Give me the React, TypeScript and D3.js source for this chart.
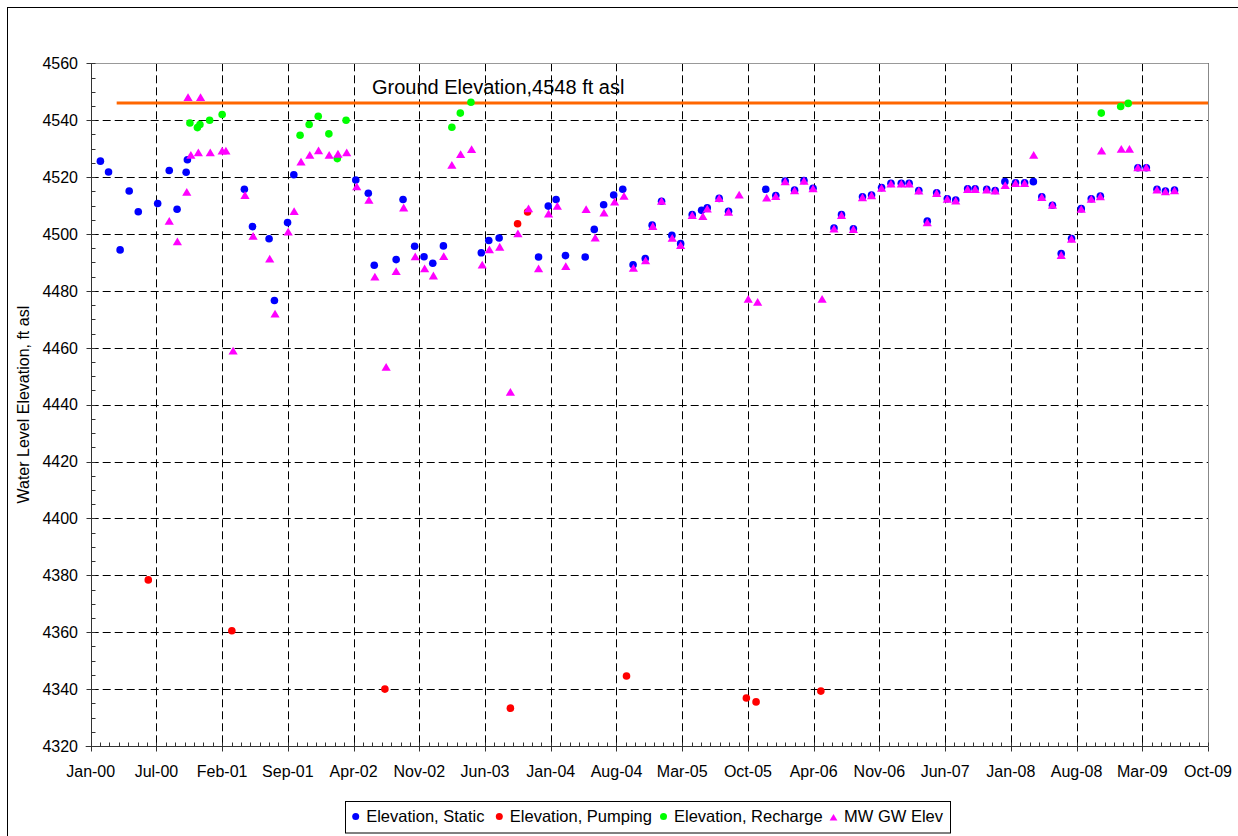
import React from "react";
import * as d3 from "d3";

// axis setup (Excel date axis: 210-day major unit, 30-day minor unit)
const xTickLabels = [
  "Jan-00", "Jul-00", "Feb-01", "Sep-01", "Apr-02", "Nov-02", "Jun-03", "Jan-04", "Aug-04",
  "Mar-05", "Oct-05", "Apr-06", "Nov-06", "Jun-07", "Jan-08", "Aug-08", "Mar-09", "Oct-09",
];
const axisStart = "2000-01-02";
const majorDays = 210;
const minorDays = 30;
const yTicks = [4320, 4340, 4360, 4380, 4400, 4420, 4440, 4460, 4480, 4500, 4520, 4540, 4560];

const groundElev = 4546;
const groundFrom = "2000-03-25";
const groundLabel = "Ground Elevation,4548 ft asl";

const staticPts: [string, number][] = [
  ["2000-02-02", 4525.6], ["2000-02-28", 4521.8], ["2000-04-05", 4494.4], ["2000-05-04", 4515.1],
  ["2000-06-02", 4507.8], ["2000-08-03", 4510.7], ["2000-09-09", 4522.3], ["2000-10-04", 4508.7],
  ["2000-11-02", 4521.7], ["2000-11-06", 4526.1], ["2001-05-07", 4515.7], ["2001-06-02", 4502.6],
  ["2001-07-25", 4498.3], ["2001-08-11", 4476.6], ["2001-09-22", 4504.0], ["2001-10-12", 4520.8],
  ["2002-04-28", 4519.0], ["2002-06-07", 4514.3], ["2002-06-26", 4489.0], ["2002-09-04", 4491.0],
  ["2002-09-26", 4512.1], ["2002-11-02", 4495.7], ["2002-12-02", 4492.0], ["2002-12-30", 4489.7],
  ["2003-02-02", 4495.8], ["2003-06-03", 4493.4], ["2003-06-27", 4497.7], ["2003-07-30", 4498.6],
  ["2003-12-03", 4491.9], ["2004-01-03", 4509.8], ["2004-01-28", 4512.1], ["2004-02-27", 4492.4],
  ["2004-04-30", 4491.9], ["2004-05-29", 4501.6], ["2004-06-28", 4510.3], ["2004-07-30", 4513.7],
  ["2004-08-28", 4515.7], ["2004-09-30", 4489.2], ["2004-11-08", 4491.4], ["2004-11-30", 4503.1],
  ["2004-12-30", 4511.5], ["2005-02-01", 4499.5], ["2005-03-01", 4496.6], ["2005-04-07", 4506.8],
  ["2005-05-07", 4508.3], ["2005-05-25", 4509.2], ["2005-07-02", 4512.5], ["2005-08-01", 4508.0],
  ["2005-11-28", 4515.7], ["2005-12-30", 4513.5], ["2006-01-29", 4518.6], ["2006-02-28", 4515.4],
  ["2006-03-30", 4518.8], ["2006-04-28", 4516.1], ["2006-07-04", 4502.1], ["2006-07-28", 4506.8],
  ["2006-09-04", 4501.8], ["2006-10-03", 4513.1], ["2006-11-01", 4513.7], ["2006-12-03", 4516.3],
  ["2007-01-02", 4517.8], ["2007-02-04", 4517.8], ["2007-03-01", 4517.8], ["2007-04-01", 4515.3],
  ["2007-04-28", 4504.5], ["2007-05-28", 4514.5], ["2007-07-01", 4512.4], ["2007-07-28", 4511.9],
  ["2007-09-04", 4515.9], ["2007-09-28", 4515.9], ["2007-11-04", 4515.7], ["2007-12-01", 4515.3],
  ["2008-01-01", 4518.4], ["2008-02-04", 4518.0], ["2008-03-04", 4518.0], ["2008-04-01", 4518.4],
  ["2008-04-28", 4513.1], ["2008-06-01", 4510.1], ["2008-06-29", 4493.1], ["2008-08-01", 4498.4],
  ["2008-09-01", 4508.9], ["2008-10-03", 4512.4], ["2008-11-01", 4513.3], ["2009-03-01", 4523.3],
  ["2009-03-28", 4523.3], ["2009-05-01", 4515.7], ["2009-05-28", 4515.1], ["2009-06-26", 4515.4],
];

const pumpingPts: [string, number][] = [
  ["2000-07-04", 4378.4], ["2001-03-28", 4360.5], ["2002-07-30", 4340.0], ["2003-09-04", 4333.3],
  ["2003-09-27", 4503.6], ["2003-10-29", 4507.7], ["2004-09-09", 4344.6], ["2005-09-27", 4336.9],
  ["2005-10-28", 4335.5], ["2006-05-23", 4339.3],
];

const rechargePts: [string, number][] = [
  ["2000-11-14", 4539.0], ["2000-12-08", 4537.4], ["2000-12-16", 4538.5], ["2001-01-16", 4540.0],
  ["2001-02-25", 4542.0], ["2001-11-01", 4534.7], ["2001-11-30", 4538.5], ["2001-12-29", 4541.4],
  ["2002-02-01", 4535.2], ["2002-02-28", 4526.5], ["2002-03-28", 4540.0], ["2003-03-01", 4537.5],
  ["2003-03-28", 4542.5], ["2003-05-01", 4546.3], ["2008-11-04", 4542.5], ["2009-01-05", 4544.8],
  ["2009-01-29", 4545.9],
];

const mwPts: [string, number][] = [
  ["2000-09-09", 4504.5], ["2000-10-05", 4497.3], ["2000-11-04", 4514.7], ["2000-11-08", 4548.0],
  ["2000-11-17", 4527.7], ["2000-12-11", 4528.6], ["2000-12-18", 4548.0], ["2001-01-18", 4528.6],
  ["2001-02-25", 4529.2], ["2001-03-09", 4529.2], ["2001-04-01", 4458.9], ["2001-05-09", 4513.6],
  ["2001-06-04", 4499.2], ["2001-07-27", 4491.2], ["2001-08-13", 4471.9], ["2001-09-24", 4500.7],
  ["2001-10-13", 4507.9], ["2001-11-04", 4525.3], ["2001-12-02", 4527.7], ["2001-12-30", 4529.3],
  ["2002-02-02", 4527.7], ["2002-03-02", 4528.1], ["2002-03-30", 4528.6], ["2002-05-01", 4516.6],
  ["2002-06-09", 4511.9], ["2002-06-28", 4484.9], ["2002-08-03", 4453.2], ["2002-09-04", 4486.8],
  ["2002-09-28", 4509.2], ["2002-11-04", 4492.0], ["2002-12-04", 4487.8], ["2003-01-01", 4485.3],
  ["2003-02-03", 4492.1], ["2003-03-01", 4524.2], ["2003-03-29", 4528.0], ["2003-05-03", 4529.7],
  ["2003-06-06", 4489.1], ["2003-06-29", 4494.5], ["2003-08-01", 4495.4], ["2003-09-04", 4444.4],
  ["2003-09-28", 4500.1], ["2003-11-01", 4508.9], ["2003-12-03", 4487.8], ["2004-01-04", 4507.1],
  ["2004-02-01", 4509.8], ["2004-02-28", 4488.6], ["2004-05-03", 4508.6], ["2004-06-01", 4498.6],
  ["2004-06-29", 4507.4], ["2004-08-02", 4511.3], ["2004-09-01", 4513.3], ["2004-10-01", 4488.0],
  ["2004-11-09", 4490.6], ["2004-12-02", 4502.7], ["2004-12-30", 4511.5], ["2005-02-02", 4498.5],
  ["2005-03-01", 4496.0], ["2005-04-07", 4506.5], ["2005-05-11", 4506.2], ["2005-05-25", 4508.8],
  ["2005-07-02", 4512.5], ["2005-08-01", 4507.7], ["2005-09-04", 4513.7], ["2005-10-03", 4477.1],
  ["2005-11-02", 4476.0], ["2005-12-01", 4512.7], ["2005-12-30", 4513.2], ["2006-01-29", 4518.4],
  ["2006-02-28", 4515.2], ["2006-03-30", 4518.6], ["2006-04-28", 4515.9], ["2006-05-27", 4477.1],
  ["2006-07-04", 4501.8], ["2006-07-28", 4506.5], ["2006-09-04", 4501.6], ["2006-10-03", 4512.8],
  ["2006-11-01", 4513.5], ["2006-12-03", 4516.1], ["2007-01-02", 4517.6], ["2007-02-04", 4517.6],
  ["2007-03-01", 4517.6], ["2007-04-01", 4515.1], ["2007-04-28", 4504.0], ["2007-05-28", 4514.3],
  ["2007-07-01", 4512.2], ["2007-07-28", 4511.6], ["2007-09-04", 4515.7], ["2007-09-28", 4515.7],
  ["2007-11-04", 4515.5], ["2007-12-01", 4515.1], ["2008-01-02", 4517.1], ["2008-02-04", 4517.8],
  ["2008-03-04", 4517.8], ["2008-04-02", 4527.7], ["2008-04-28", 4512.9], ["2008-06-01", 4510.1],
  ["2008-06-29", 4492.5], ["2008-08-01", 4498.2], ["2008-09-01", 4508.7], ["2008-10-03", 4512.2],
  ["2008-11-01", 4513.1], ["2008-11-05", 4529.2], ["2009-01-07", 4529.8], ["2009-02-02", 4529.8],
  ["2009-03-01", 4523.3], ["2009-03-28", 4523.3], ["2009-05-01", 4515.5], ["2009-05-28", 4514.9],
  ["2009-06-26", 4515.2],
];

const legendItems = [
  { label: "Elevation, Static", color: "#0000FF", shape: "circle" },
  { label: "Elevation, Pumping", color: "#FF0000", shape: "circle" },
  { label: "Elevation, Recharge", color: "#00FF00", shape: "circle" },
  { label: "MW GW Elev", color: "#FF00FF", shape: "triangle" },
];

const FONT = "'Liberation Sans', Arial, sans-serif";
const W = 1238;
const H = 836;
const left = 90.7, right = 1208, top = 63.3, bottom = 746;

const parse = d3.timeParse("%Y-%m-%d");
const crisp = (v: number) => Math.round(v) + 0.5;
const triPath = (cx: number, cy: number, s = 1) =>
  `M${cx},${cy - 4.2 * s}L${cx + 4.6 * s},${cy + 3.6 * s}L${cx - 4.6 * s},${cy + 3.6 * s}Z`;

export default function App() {
  const start = parse(axisStart) as Date;
  const end = d3.timeDay.offset(start, majorDays * (xTickLabels.length - 1));
  const x = d3.scaleTime().domain([start, end]).range([left, right]);
  const y = d3.scaleLinear().domain([yTicks[0], yTicks[yTicks.length - 1]]).range([bottom, top]);

  const majorX = xTickLabels.map((_, i) => x(d3.timeDay.offset(start, i * majorDays)));
  const minorX = d3.range(0, majorDays * (xTickLabels.length - 1) + 1, minorDays)
    .map((d) => x(d3.timeDay.offset(start, d)));
  const minorY = d3.range(yTicks[0], yTicks[yTicks.length - 1] + 1, 5).map((v) => y(v));

  const pts = (arr: [string, number][]) => arr.map(([d, v]) => [x(parse(d) as Date), y(v)]);

  const legendX = [355.7, 499.3, 663.5, 833.5];

  return (
    <svg width={W} height={H} style={{ position: "absolute", left: 0, top: 0, display: "block", background: "#fff" }}
      fontFamily={FONT}>
      <rect x={7.5} y={7.5} width={W + 20} height={H + 20} fill="#fff" stroke="#000" strokeWidth={1} />

      {/* grid */}
      {yTicks.slice(1, -1).map((v) => (
        <line key={"gy" + v} x1={left} x2={right} y1={crisp(y(v))} y2={crisp(y(v))}
          stroke="#000" strokeWidth={1} strokeDasharray="8,4" />
      ))}
      {majorX.slice(1).map((px, i) => (
        <line key={"gx" + i} x1={crisp(px)} x2={crisp(px)} y1={top} y2={bottom}
          stroke="#000" strokeWidth={1} strokeDasharray="8,4" />
      ))}
      <line x1={left} x2={right} y1={crisp(top)} y2={crisp(top)} stroke="#999" />
      <line x1={crisp(right)} x2={crisp(right)} y1={top} y2={bottom} stroke="#888" />

      {/* ground elevation */}
      <line x1={x(parse(groundFrom) as Date)} x2={right} y1={y(groundElev)} y2={y(groundElev)}
        stroke="#FF6600" strokeWidth={3} />
      <text x={372} y={94} fontSize={20} fill="#000">{groundLabel}</text>

      {/* axes */}
      <line x1={crisp(left)} x2={crisp(left)} y1={top} y2={bottom + 0.5} stroke="#333" />
      <line x1={left - 5} x2={right} y1={crisp(bottom)} y2={crisp(bottom)} stroke="#333" />
      {minorY.map((py, i) => (
        <line key={"my" + i} x1={crisp(left)} x2={crisp(left) + 4} y1={crisp(py)} y2={crisp(py)} stroke="#333" />
      ))}
      {yTicks.map((v) => (
        <g key={"ty" + v}>
          <line x1={crisp(left) - 5} x2={crisp(left)} y1={crisp(y(v))} y2={crisp(y(v))} stroke="#333" />
          <text x={78} y={y(v) + 5.8} fontSize={16} textAnchor="end" fill="#000">{v}</text>
        </g>
      ))}
      {minorX.map((px, i) => (
        <line key={"mx" + i} x1={crisp(px)} x2={crisp(px)} y1={crisp(bottom) - 4} y2={crisp(bottom)} stroke="#333" />
      ))}
      {majorX.map((px, i) => (
        <g key={"tx" + i}>
          <line x1={crisp(px)} x2={crisp(px)} y1={crisp(bottom)} y2={crisp(bottom) + 5} stroke="#333" />
          <text x={px} y={776.7} fontSize={16} textAnchor="middle" fill="#000">{xTickLabels[i]}</text>
        </g>
      ))}
      <text transform={`translate(29,${(top + bottom) / 2}) rotate(-90)`} fontSize={16} textAnchor="middle" fill="#000">
        Water Level Elevation, ft asl
      </text>

      {/* series */}
      {pts(staticPts).map(([cx, cy], i) => <circle key={"s" + i} cx={cx} cy={cy} r={3.8} fill="#0000FF" />)}
      {pts(pumpingPts).map(([cx, cy], i) => <circle key={"p" + i} cx={cx} cy={cy} r={3.8} fill="#FF0000" />)}
      {pts(rechargePts).map(([cx, cy], i) => <circle key={"r" + i} cx={cx} cy={cy} r={3.8} fill="#00FF00" />)}
      {pts(mwPts).map(([cx, cy], i) => <path key={"m" + i} d={triPath(cx, cy)} fill="#FF00FF" />)}

      {/* legend */}
      <rect x={345.5} y={801.5} width={605} height={31.5} fill="#fff" stroke="#000" />
      {legendItems.map((it, i) => (
        <g key={"lg" + i}>
          {it.shape === "circle"
            ? <circle cx={legendX[i]} cy={816.5} r={3.5} fill={it.color} />
            : <path d={triPath(legendX[i], 817.5, 0.85)} fill={it.color} />}
          <text x={legendX[i] + 10.5} y={822} fontSize={16.5} fill="#000">{it.label}</text>
        </g>
      ))}
    </svg>
  );
}
